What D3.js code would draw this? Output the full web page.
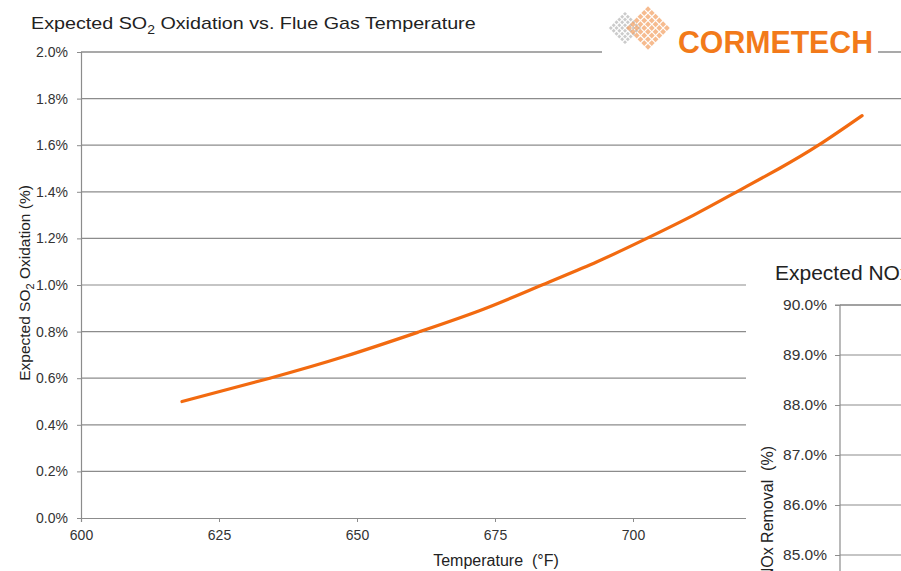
<!DOCTYPE html>
<html>
<head>
<meta charset="utf-8">
<script src="https://cdn.jsdelivr.net/npm/d3@7"></script>
<style>
  body { margin: 0; background: #fff; }
  svg { display: block; font-family: "Liberation Sans", Arial, sans-serif; }
</style>
</head>
<body>
<svg id="chart" width="901" height="571"></svg>
<script>
// data
var temps = [618.3, 634.2, 648, 661.4, 673, 683.5, 693.5, 702.5, 711, 718.8, 726.5, 733.6, 741.5];
var so2 = [0.500, 0.600, 0.695, 0.800, 0.897, 1.000, 1.100, 1.200, 1.300, 1.400, 1.500, 1.600, 1.727];
var xTicks = [600, 625, 650, 675, 700, 725, 750];
var yTicks = [0, 0.2, 0.4, 0.6, 0.8, 1.0, 1.2, 1.4, 1.6, 1.8, 2.0];
var noxTicks = [85, 86, 87, 88, 89, 90];

var svg = d3.select("#chart");
var W = 901, H = 571;
var FONT = "Liberation Sans, Arial, sans-serif";

// main chart scales
var x = d3.scaleLinear().domain([600, 750]).range([81, 909]);
var y = d3.scaleLinear().domain([0, 2.0]).range([518, 52]);

// gridlines
svg.append("g").selectAll("line")
  .data(yTicks.filter(function(d){ return d > 0; }))
  .enter().append("line")
  .attr("x1", 81).attr("x2", W)
  .attr("y1", function(d){ return y(d); }).attr("y2", function(d){ return y(d); })
  .attr("stroke", function(d){ return d === 2.0 ? "#555" : "#8c8c8c"; })
  .attr("stroke-width", 1.2);

// y axis
var yAxis = d3.axisLeft(y).tickValues(yTicks).tickSize(4).tickPadding(9)
  .tickFormat(function(d){ return d.toFixed(1) + "%"; });
var gy = svg.append("g").attr("transform", "translate(81,0)").call(yAxis);
gy.select(".domain").attr("stroke", "#8c8c8c").attr("stroke-width", 1.2);
gy.selectAll(".tick line").attr("stroke", "#8c8c8c");
gy.selectAll("text").attr("font-size", 14).attr("fill", "#333").attr("font-family", FONT);

// x axis
var xAxis = d3.axisBottom(x).tickValues(xTicks).tickSize(4).tickPadding(8)
  .tickFormat(d3.format("d"));
var gx = svg.append("g").attr("transform", "translate(0,518)").call(xAxis);
gx.select(".domain").attr("stroke", "#8c8c8c").attr("stroke-width", 1.2);
gx.selectAll(".tick line").attr("stroke", "#8c8c8c");
gx.selectAll("text").attr("font-size", 14).attr("fill", "#333").attr("font-family", FONT);

// SO2 curve
var line = d3.line()
  .x(function(d, i){ return x(temps[i]); })
  .y(function(d){ return y(d); })
  .curve(d3.curveNatural);
svg.append("path")
  .datum(so2)
  .attr("d", line)
  .attr("fill", "none")
  .attr("stroke", "#f26a10")
  .attr("stroke-width", 3.2)
  .attr("stroke-linecap", "round");

// titles
var title = svg.append("text").attr("transform", "translate(31,29) scale(1.16,1)")
  .attr("font-size", 17).attr("fill", "#222");
title.append("tspan").text("Expected SO");
title.append("tspan").text("2").attr("font-size", 12).attr("dy", 5);
title.append("tspan").text(" Oxidation vs. Flue Gas Temperature").attr("dy", -5);

var ylab = svg.append("text")
  .attr("transform", "translate(30,283) rotate(-90)")
  .attr("text-anchor", "middle").attr("font-size", 15.5).attr("fill", "#222");
ylab.append("tspan").text("Expected SO");
ylab.append("tspan").text("2").attr("font-size", 11).attr("dy", 4);
ylab.append("tspan").text(" Oxidation (%)").attr("dy", -4);

svg.append("text").attr("x", 496).attr("y", 566)
  .attr("text-anchor", "middle").attr("font-size", 16).attr("fill", "#222")
  .attr("xml:space", "preserve")
  .text("Temperature  (\u00B0F)");

// logo
var logo = svg.append("g");
logo.append("rect").attr("x", 602).attr("y", 0).attr("width", 276).attr("height", 62).attr("fill", "#fff");
function diamond(cx, cy, r, col) {
  var g = logo.append("g").attr("transform", "translate(" + cx + "," + cy + ") rotate(45)");
  var n = 6, s = r * 2 / n;
  for (var i = 0; i < n; i++) {
    for (var j = 0; j < n; j++) {
      g.append("rect")
        .attr("x", -r + i * s + 0.6).attr("y", -r + j * s + 0.6)
        .attr("width", s - 1.2).attr("height", s - 1.2)
        .attr("fill", col).attr("opacity", 0.75);
    }
  }
}
diamond(625, 28, 12, "#b9b9b9");
diamond(648, 28, 16, "#f3a46a");
logo.append("text").attr("x", 678).attr("y", 53)
  .attr("font-size", 31).attr("font-weight", "bold").attr("fill", "#f27a1a")
  .attr("textLength", 195).attr("lengthAdjust", "spacingAndGlyphs")
  .text("CORMETECH");

// second chart (partly visible, lower right)
svg.append("rect").attr("x", 746).attr("y", 256).attr("width", W - 746).attr("height", H - 256).attr("fill", "#fff");
var y2 = d3.scaleLinear().domain([85, 90]).range([555, 305]);

svg.append("g").selectAll("line")
  .data(noxTicks.filter(function(d){ return d < 90; }))
  .enter().append("line")
  .attr("x1", 840).attr("x2", W)
  .attr("y1", function(d){ return y2(d); }).attr("y2", function(d){ return y2(d); })
  .attr("stroke", "#8c8c8c").attr("stroke-width", 1.2);
svg.append("line").attr("x1", 840).attr("x2", W).attr("y1", y2(90)).attr("y2", y2(90))
  .attr("stroke", "#444").attr("stroke-width", 1.2);

var y2Axis = d3.axisLeft(y2).tickValues(noxTicks).tickSize(5).tickPadding(8)
  .tickFormat(function(d){ return d.toFixed(1) + "%"; });
var gy2 = svg.append("g").attr("transform", "translate(840,0)").call(y2Axis);
gy2.select(".domain").attr("stroke", "#8c8c8c").attr("stroke-width", 1.2).attr("d", "M-5,305H0V" + H);
gy2.selectAll(".tick line").attr("stroke", "#8c8c8c");
gy2.selectAll("text").attr("font-size", 15.5).attr("fill", "#333").attr("font-family", FONT);

svg.append("text").attr("x", 775).attr("y", 280)
  .attr("font-size", 21).attr("fill", "#222")
  .text("Expected NOx");

svg.append("text")
  .attr("transform", "translate(773,446) rotate(-90)")
  .attr("text-anchor", "end").attr("font-size", 16).attr("fill", "#222")
  .attr("xml:space", "preserve")
  .text("Expected NOx Removal  (%)");
</script>
</body>
</html>
